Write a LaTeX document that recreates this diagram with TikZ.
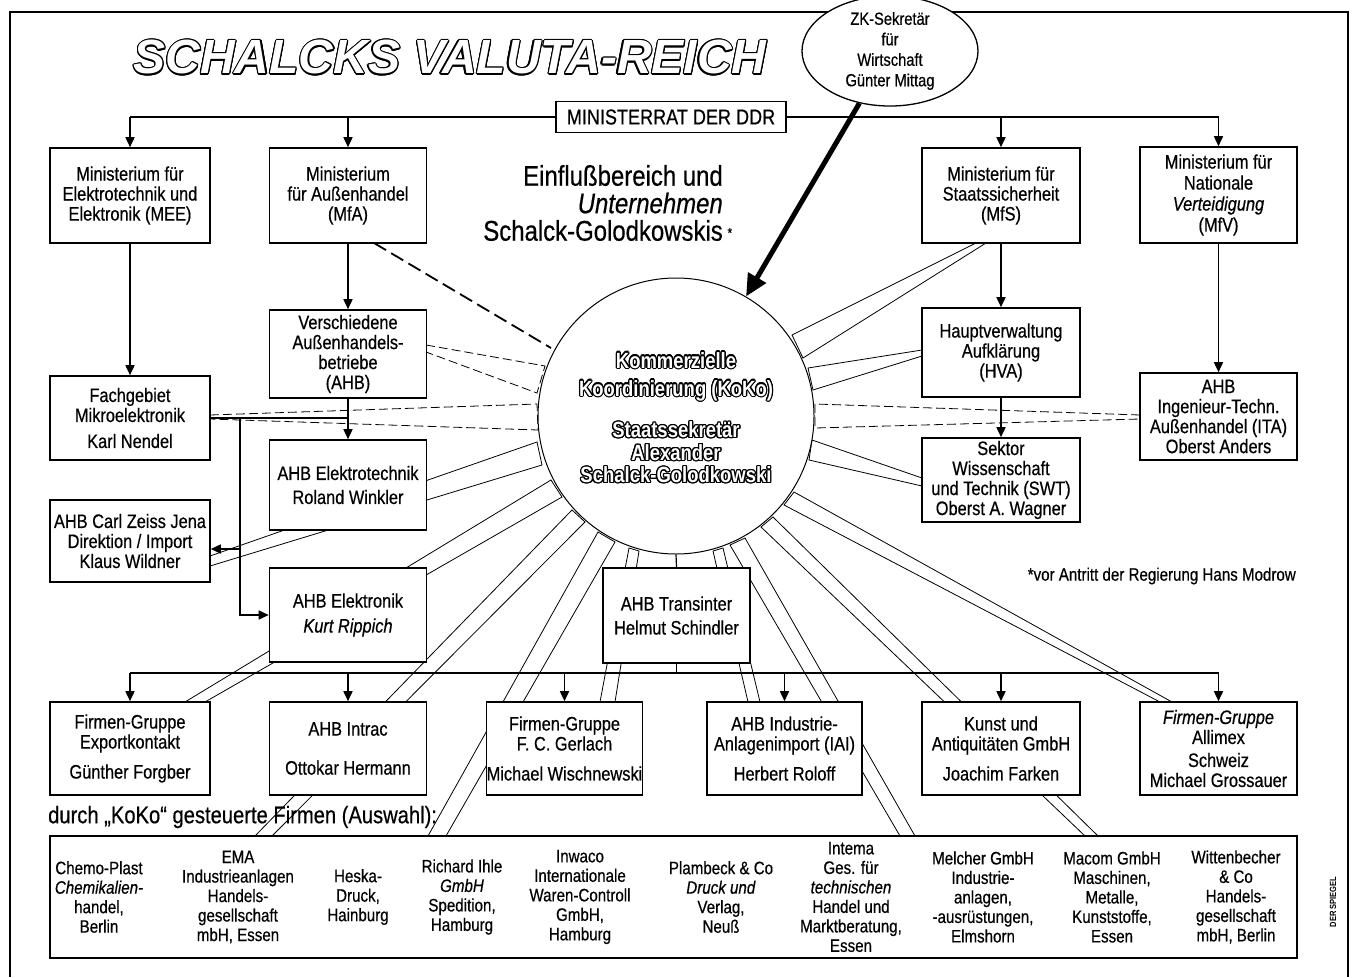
\documentclass[tikz,border=0pt]{standalone}
\usepackage{fontspec}
\setmainfont{Liberation Sans}[FakeStretch=0.84, UprightFeatures={FakeBold=0.5}, ItalicFeatures={FakeBold=0.5}]
\newfontfamily\titlefont{Liberation Sans}
\usepackage{contour}
\contourlength{1.2pt}
\usetikzlibrary{arrows.meta,shapes.geometric}
\begin{document}
\begin{tikzpicture}[x=1pt,y=-1pt,
  nbox/.style={draw, line width=1.6pt, fill=white, align=center, inner sep=0pt, minimum width=157pt, font=\fontsize{19.5}{20}\selectfont},
  firm/.style={align=center, inner sep=0pt, font=\fontsize{18}{19.5}\selectfont},
  conn/.style={line width=1.6pt},
  arr/.style={line width=1.6pt, -{Triangle[length=10pt,width=9pt]}},
  spk/.style={line width=0.8pt, line join=miter},
  dspk/.style={spk, dash pattern=on 9pt off 4pt},
  ktext/.style={align=center, text=white, inner sep=0pt}
]
\useasboundingbox (0,0) rectangle (1357,977);
% frame
\draw[line width=2pt] (10,977) -- (10,12) -- (1348,12) -- (1348,977);

% ---- spokes (drawn below boxes) ----
\draw[line width=1.8pt, dash pattern=on 14pt off 6pt] (374,243) -- (551,348);
\draw[dspk] (426,345) -- (545,366) -- (537,393) -- (426,352);
\draw[dspk] (210,415) -- (537,404) -- (538,430) -- (210,419);
\draw[spk] (210,556) -- (537,442) -- (542,465) -- (210,566);
\draw[spk] (185,702) -- (551,480) -- (562,497) -- (205,702);
\draw[spk] (255,836) -- (572,510) -- (585,522) -- (272,836);
\draw[spk] (428,836) -- (598,532) -- (615,542) -- (446,836);
\draw[spk] (600,702) -- (629,548) -- (639,551) -- (615,702);
\draw[spk] (748,702) -- (713,551) -- (723,548) -- (760,702);
\draw[spk] (900,836) -- (730,545) -- (745,538) -- (915,836);
\draw[spk] (1085,836) -- (761,527) -- (773,517) -- (1098,836);
\draw[spk] (1160,702) -- (784,505) -- (794,492) -- (1172,702);
\draw[spk] (922,478) -- (812,440) -- (809,460) -- (922,486);
\draw[dspk] (1140,415) -- (815,404) -- (815,428) -- (1140,419);
\draw[spk] (922,350) -- (808,368) -- (813,390) -- (922,356);
\draw[spk] (976,243) -- (792,335) -- (803,358) -- (986,243);

% ---- central circle ----
\node[circle, draw, line width=1pt, fill=white, minimum size=276pt, inner sep=0pt] (koko) at (676,416) {};
\node[ktext, font=\bfseries\fontsize{22}{28}\selectfont] (kk1) at (676,377) {\contour{black}{Kommerzielle}\\\contour{black}{Koordinierung (KoKo)}};
\node[ktext, font=\bfseries\fontsize{22}{22.5}\selectfont] (kk2) at (676,453) {\contour{black}{Staatssekretär}\\\contour{black}{Alexander}\\\contour{black}{Schalck-Golodkowski}};

% ---- title ----
\node[font=\titlefont\bfseries\itshape\fontsize{48}{50}\selectfont, text=white, inner sep=0pt] (title) at (450,58) {\contour{black}{SCHALCKS VALUTA-REICH}};

% ---- top ----
\node[nbox, minimum width=230pt, minimum height=31pt, font=\fontsize{21.5}{22}\selectfont] (minis) at (671,117) {MINISTERRAT DER DDR};
\node[ellipse, draw, line width=1.3pt, fill=white, minimum width=176pt, minimum height=100pt, inner sep=0pt, align=center, font=\fontsize{17.5}{20.5}\selectfont] (mittag) at (890,51) {ZK-Sekretär\\für\\Wirtschaft\\Günter Mittag};

\node[nbox, minimum width=160pt, minimum height=95pt] (mee) at (130,195.5) {Ministerium für\\Elektrotechnik und\\Elektronik (MEE)};
\node[nbox, minimum height=95pt] (mfa) at (348,195.5) {Ministerium\\für Außenhandel\\(MfA)};
\node[nbox, minimum width=158pt, minimum height=95pt] (mfs) at (1001,195.5) {Ministerium für\\Staatssicherheit\\(MfS)};
\node[nbox, minimum height=96pt] (mfv) at (1218.5,195) {Ministerium für\\[1pt]Nationale\\[1pt]\textit{Verteidigung}\\[1pt](MfV)};

\node[anchor=east, align=right, inner sep=0pt, font=\fontsize{28.5}{27.5}\selectfont] (einfl) at (723,203) {Einflußbereich und\\\textit{Unternehmen}\\Schalck-Golodkowskis\rlap{\,\raisebox{3pt}{\fontsize{14}{14}\selectfont*}}};

% ---- second level ----
\node[nbox, minimum width=160pt, minimum height=84pt] (fach) at (130,418) {Fachgebiet\\Mikroelektronik\\[6pt]Karl Nendel};
\node[nbox, minimum height=88pt] (versch) at (348,354) {Verschiedene\\Außenhandels-\\betriebe\\(AHB)};
\node[nbox, minimum height=90pt] (etech) at (348,485) {AHB Elektrotechnik\\[4pt]Roland Winkler};
\node[nbox, minimum width=160pt, minimum height=82pt] (zeiss) at (130,541) {AHB Carl Zeiss Jena\\Direktion / Import\\Klaus Wildner};
\node[nbox, minimum height=94pt] (rippich) at (348,615) {AHB Elektronik\\[5pt]\textit{Kurt Rippich}};
\node[nbox, minimum width=158pt, minimum height=89pt] (hva) at (1001,352.5) {Hauptverwaltung\\Aufklärung\\(HVA)};
\node[nbox, minimum width=158pt, minimum height=84pt] (swt) at (1001,480) {Sektor\\Wissenschaft\\und Technik (SWT)\\Oberst A. Wagner};
\node[nbox, minimum height=87pt] (ita) at (1218.5,416.5) {AHB\\Ingenieur-Techn.\\Außenhandel (ITA)\\Oberst Anders};
\node[nbox, minimum width=147pt, minimum height=95pt] (trans) at (676.5,615.5) {AHB Transinter\\[4pt]Helmut Schindler};

% ---- bottom row ----
\node[nbox, minimum width=160pt, minimum height=93pt] (b1) at (130,748.5) {Firmen-Gruppe\\Exportkontakt\\[10pt]Günther Forgber};
\node[nbox, minimum height=93pt] (b2) at (348,748.5) {AHB Intrac\\[19pt]Ottokar Hermann};
\node[nbox, minimum width=155pt, minimum height=93pt] (b3) at (564.5,748.5) {Firmen-Gruppe\\F. C. Gerlach\\[10pt]Michael Wischnewski};
\node[nbox, minimum width=155pt, minimum height=93pt] (b4) at (784.5,748.5) {AHB Industrie-\\Anlagenimport (IAI)\\[10pt]Herbert Roloff};
\node[nbox, minimum width=158pt, minimum height=93pt] (b5) at (1001,748.5) {Kunst und\\Antiquitäten GmbH\\[10pt]Joachim Farken};
\node[nbox, minimum height=93pt] (b6) at (1218.5,748.5) {\textit{Firmen-Gruppe}\\Allimex\\[3pt]Schweiz\\Michael Grossauer};

\node[anchor=west, inner sep=0pt, font=\fontsize{24}{24}\selectfont] (durch) at (48,817) {durch „KoKo“ gesteuerte Firmen (Auswahl):};
\node[anchor=east, inner sep=0pt, font=\fontsize{18}{18}\selectfont] (fn) at (1296,576) {*vor Antritt der Regierung Hans Modrow};

\node[draw, line width=1.5pt, minimum width=1247pt, minimum height=122pt, inner sep=0pt] (firmen) at (673.5,897) {};
\node[firm] (f1) at (99,897) {Chemo-Plast\\\textit{Chemikalien-}\\handel,\\Berlin};
\node[firm] (f2) at (238,897) {EMA\\Industrieanlagen\\Handels-\\gesellschaft\\mbH, Essen};
\node[firm] (f3) at (358,897) {Heska-\\Druck,\\Hainburg};
\node[firm] (f4) at (462,897) {Richard Ihle\\\textit{GmbH}\\Spedition,\\Hamburg};
\node[firm] (f5) at (580,897) {Inwaco\\Internationale\\Waren-Controll\\GmbH,\\Hamburg};
\node[firm] (f6) at (721,897) {Plambeck \& Co\\\textit{Druck und}\\Verlag,\\Neuß};
\node[firm] (f7) at (851,897) {Intema\\Ges. für\\\textit{technischen}\\Handel und\\Marktberatung,\\Essen};
\node[firm] (f8) at (983,897) {Melcher GmbH\\Industrie-\\anlagen,\\-ausrüstungen,\\Elmshorn};
\node[firm] (f9) at (1112,897) {Macom GmbH\\Maschinen,\\Metalle,\\Kunststoffe,\\Essen};
\node[firm] (f10) at (1236,897) {Wittenbecher\\\& Co\\Handels-\\gesellschaft\\mbH, Berlin};

\node[rotate=90, inner sep=0pt, font=\bfseries\fontsize{9}{9}\selectfont] (spiegel) at (1333,902) {DER SPIEGEL};

% ---- connectors ----
\draw[conn] (minis.west) -- (mee.north |- minis.west);
\draw[conn] (minis.east) -- (mfv.north |- minis.east);
\draw[arr] (mee.north |- minis.west) -- (mee.north);
\draw[arr] (mfa.north |- minis.west) -- (mfa.north);
\draw[arr] (mfs.north |- minis.east) -- (mfs.north);
\draw[arr] (mfv.north |- minis.east) -- (mfv.north);

\draw[arr] (mee) -- (fach);
\draw[arr] (mfa) -- (versch);
\draw[arr] (versch) -- (etech);
\draw[arr] (mfs) -- (hva);
\draw[arr] (hva) -- (swt);
\draw[arr] (mfv) -- (ita);

\draw[conn] (fach.east) -- (fach.east -| versch.south);
\coordinate (jn) at (240,418);
\coordinate (za) at ([yshift=-8pt]zeiss.east);
\draw[arr] (jn) |- (rippich.west);
\draw[arr] (jn |- za) -- (za);

\draw[line width=5pt, -{Triangle[length=22pt,width=20pt]}] (mittag) -- (koko);

\coordinate (bus) at (676,673);
\draw[line width=1.2pt] (koko.south) -- (trans.north);
\draw[conn] (trans.south) -- (trans.south |- bus);
\draw[line width=2.2pt] (b1.north |- bus) -- (b6.north |- bus);
\foreach \b in {b1,b2,b3,b4,b5,b6} {\draw[arr] (\b.north |- bus) -- (\b.north);}
\end{tikzpicture}
\end{document}
